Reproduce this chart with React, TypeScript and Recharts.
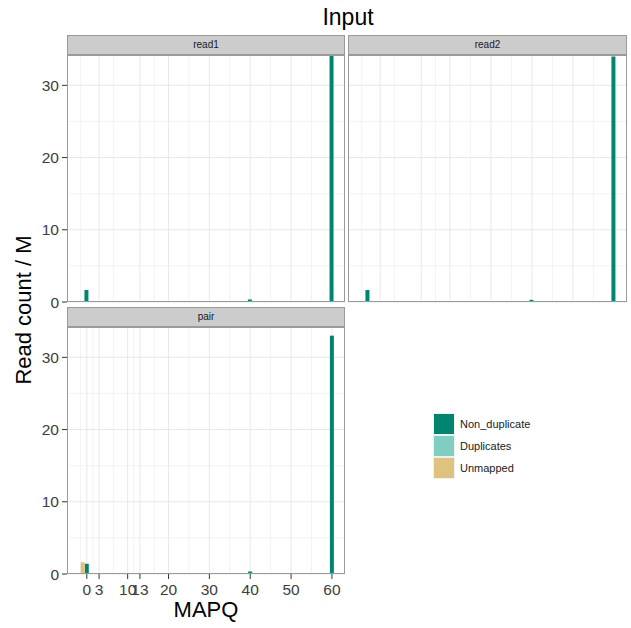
import React from 'react';
import { BarChart, Bar, XAxis, YAxis, CartesianGrid, Legend } from 'recharts';

// ---- data ----
const seriesNames = ['Non_duplicate', 'Duplicates', 'Unmapped'];
const seriesColors = ['#018571', '#80cdc1', '#dfc27d'];
const panelNames = ['read1', 'read2', 'pair'];

const mapqRead1 = [0, 27, 40, 49, 60];
const nonDupRead1 = [1.66, 0.03, 0.35, 0.02, 34.1];
const dupRead1 = [0, 0.03, 0, 0.03, 0];
const unmRead1 = [0, 0, 0, 0, 0];

const mapqRead2 = [0, 27, 40, 49, 60];
const nonDupRead2 = [1.66, 0.02, 0.3, 0.02, 34.0];
const dupRead2 = [0, 0.03, 0, 0.03, 0];
const unmRead2 = [0, 0, 0, 0, 0];

const mapqPair = [-1, 0, 27, 40, 49, 60];
const nonDupPair = [0, 1.42, 0, 0.35, 0, 33.0];
const dupPair = [0, 0, 0.1, 0, 0.08, 0.08];
const unmPair = [1.62, 0, 0, 0, 0, 0];

const xTicks = [0, 3, 10, 13, 20, 30, 40, 50, 60];
const xMinor = [-1.5, 1.5, 6.5, 11.5, 16.5, 25, 35, 45, 55];
const yTicks = [0, 10, 20, 30];
const yMinor = [5, 15, 25];
const xDomain = [-4.85, 63.2];
const yDomain = [0, 34.2];

const build = (m: number[], a: number[], b: number[], c: number[]) =>
  m.map((x, i) => ({ mapq: x, Non_duplicate: a[i], Duplicates: b[i], Unmapped: c[i] }));

const dataRead1 = build(mapqRead1, nonDupRead1, dupRead1, unmRead1);
const dataRead2 = build(mapqRead2, nonDupRead2, dupRead2, unmRead2);
const dataPair = build(mapqPair, nonDupPair, dupPair, unmPair);

const FONT = '"Liberation Sans", Arial, Helvetica, sans-serif';
const PLOT_H = 247;
const PAD = 10;

const grids = () => [
  <CartesianGrid key="gmin" stroke="#f3f3f3" strokeWidth={1} verticalValues={xMinor} horizontalValues={yMinor} syncWithTicks={false} />,
  <CartesianGrid key="gmaj" stroke="#e8e8e8" strokeWidth={1} verticalValues={xTicks} horizontalValues={yTicks} syncWithTicks={false} />,
];

const bars = () =>
  seriesNames.map((s, i) => (
    <Bar key={s} dataKey={s} name={s} stackId="a" fill={seriesColors[i]} barSize={4} isAnimationActive={false} />
  ));

const Strip = ({ left, top, width, label }: { left: number; top: number; width: number; label: string }) => (
  <div
    style={{
      position: 'absolute', left, top, width: width - 2, height: 18,
      background: '#cccccc', border: '1px solid #9a9a9a',
      fontFamily: FONT, fontSize: 10, color: '#1a1a1a',
      textAlign: 'center', lineHeight: '18px',
    }}
  >
    {label}
  </div>
);

const Border = ({ left, top, width, height }: { left: number; top: number; width: number; height: number }) => (
  <div
    style={{
      position: 'absolute', left, top, width: width - 2, height: height - 2,
      border: '1px solid #9a9a9a', pointerEvents: 'none',
    }}
  />
);

const LegendContent = (props: any) => {
  const payload = [...(props.payload || [])].sort(
    (a: any, b: any) => seriesNames.indexOf(a.value) - seriesNames.indexOf(b.value)
  );
  return (
    <div style={{ fontFamily: FONT, fontSize: 11, color: '#1a1a1a' }}>
      {payload.map((p: any) => (
        <div key={p.value} style={{ display: 'flex', alignItems: 'center', height: 22 }}>
          <div style={{ width: 20, height: 20, background: p.color, border: '1px solid #f0f0f0' }} />
          <span style={{ marginLeft: 5 }}>{p.value}</span>
        </div>
      ))}
    </div>
  );
};

const tickStyle = { fontFamily: FONT, fontSize: 15.5, fill: '#3d3d3d' };

export default function App() {
  return (
    <div style={{ position: 'absolute', left: 0, top: 0, width: 631, height: 628, background: '#ffffff', overflow: 'hidden', fontFamily: FONT }}>
      <div style={{ position: 'absolute', left: 0, top: 4, width: 696, textAlign: 'center', fontSize: 23, color: '#000' }}>Input</div>
      <div
        style={{
          position: 'absolute', left: 24 - 100, top: 310 - 14, width: 200, height: 28,
          transform: 'rotate(-90deg)', textAlign: 'center', fontSize: 22, lineHeight: '28px', color: '#000',
        }}
      >
        Read count / M
      </div>

      <Strip left={67} top={35} width={278} label={panelNames[0]} />
      <Strip left={348} top={35} width={279} label={panelNames[1]} />
      <Strip left={67} top={307} width={278} label={panelNames[2]} />

      {/* read1 */}
      <div style={{ position: 'absolute', left: 0, top: 55 - PAD }}>
        <BarChart width={345} height={PLOT_H + 2 * PAD} data={dataRead1} margin={{ top: PAD, right: 0, bottom: PAD, left: 0 }}>
          {grids()}
          <XAxis dataKey="mapq" type="number" domain={xDomain} hide allowDataOverflow />
          <YAxis type="number" domain={yDomain} ticks={yTicks} width={67} axisLine={false} tickSize={5} tickMargin={3}
            tickLine={{ stroke: '#333' }} tick={tickStyle} allowDataOverflow interval={0} />
          {bars()}
        </BarChart>
      </div>
      <Border left={67} top={55} width={278} height={PLOT_H} />

      {/* read2 */}
      <div style={{ position: 'absolute', left: 348, top: 55 - PAD }}>
        <BarChart width={279} height={PLOT_H + 2 * PAD} data={dataRead2} margin={{ top: PAD, right: 0, bottom: PAD, left: 0 }}>
          {grids()}
          <XAxis dataKey="mapq" type="number" domain={xDomain} hide allowDataOverflow />
          <YAxis type="number" domain={yDomain} ticks={yTicks} hide allowDataOverflow />
          {bars()}
        </BarChart>
      </div>
      <Border left={348} top={55} width={279} height={PLOT_H} />

      {/* pair */}
      <div style={{ position: 'absolute', left: 0, top: 327 - PAD }}>
        <BarChart width={631} height={PLOT_H + 50 + PAD} data={dataPair} margin={{ top: PAD, right: 286, bottom: 0, left: 0 }}>
          {grids()}
          <XAxis dataKey="mapq" type="number" domain={xDomain} ticks={xTicks} interval={0} height={50}
            axisLine={false} tickSize={5} tickMargin={5} tickLine={{ stroke: '#333' }} tick={tickStyle} allowDataOverflow
            label={{ value: 'MAPQ', position: 'insideBottom', offset: 7, style: { fontFamily: FONT, fontSize: 22, fill: '#000' } }} />
          <YAxis type="number" domain={yDomain} ticks={yTicks} width={67} axisLine={false} tickSize={5} tickMargin={3}
            tickLine={{ stroke: '#333' }} tick={tickStyle} allowDataOverflow interval={0} />
          {bars()}
          <Legend layout="vertical" align="center" verticalAlign="middle" content={LegendContent}
            wrapperStyle={{ position: 'absolute', left: 433, top: 86 + PAD, width: 'auto', height: 'auto' }} />
        </BarChart>
      </div>
      <Border left={67} top={327} width={278} height={PLOT_H} />
    </div>
  );
}
